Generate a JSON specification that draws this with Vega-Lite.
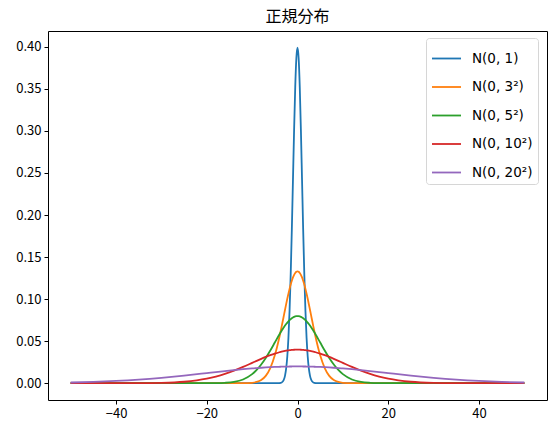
{
  "$schema": "https://vega.github.io/schema/vega-lite/v6.json",
  "autosize": "none",
  "width": 499,
  "height": 369,
  "padding": {"left": 48, "top": 31, "right": 8, "bottom": 33},
  "background": "white",
  "title": {"text": "正規分布", "font": "Noto Sans CJK JP", "fontSize": 16, "fontWeight": "normal", "color": "black", "offset": 6},
  "config": {
    "view": {"stroke": "black", "strokeWidth": 1},
    "axis": {"domain": false, "grid": false, "ticks": true, "tickColor": "black", "tickSize": 4, "tickWidth": 1, "labelFont": "Noto Sans CJK JP", "labelFontSize": 13, "labelColor": "black", "labelPadding": 3, "title": null}
  },
  "data": {"values": [
    {"x": -50, "s1": 0, "s3": 0, "s5": 0, "s10": 0, "s20": 0.00088},
    {"x": -45, "s1": 0, "s3": 0, "s5": 0, "s10": 0, "s20": 0.00159},
    {"x": -40, "s1": 0, "s3": 0, "s5": 0, "s10": 0.00001, "s20": 0.0027},
    {"x": -35, "s1": 0, "s3": 0, "s5": 0, "s10": 0.00009, "s20": 0.00431},
    {"x": -30, "s1": 0, "s3": 0, "s5": 0, "s10": 0.00044, "s20": 0.00648},
    {"x": -25, "s1": 0, "s3": 0, "s5": 0, "s10": 0.00175, "s20": 0.00913},
    {"x": -20, "s1": 0, "s3": 0, "s5": 0.00003, "s10": 0.0054, "s20": 0.0121},
    {"x": -18, "s1": 0, "s3": 0, "s5": 0.00012, "s10": 0.0079, "s20": 0.0133},
    {"x": -16, "s1": 0, "s3": 0, "s5": 0.00048, "s10": 0.01109, "s20": 0.01448},
    {"x": -14, "s1": 0, "s3": 0, "s5": 0.00158, "s10": 0.01497, "s20": 0.01561},
    {"x": -12, "s1": 0, "s3": 0.00004, "s5": 0.00448, "s10": 0.01942, "s20": 0.01666},
    {"x": -10, "s1": 0, "s3": 0.00051, "s5": 0.0108, "s10": 0.0242, "s20": 0.0176},
    {"x": -9, "s1": 0, "s3": 0.00148, "s5": 0.01579, "s10": 0.02661, "s20": 0.01803},
    {"x": -8, "s1": 0, "s3": 0.0038, "s5": 0.02218, "s10": 0.02897, "s20": 0.01841},
    {"x": -7, "s1": 0, "s3": 0.00874, "s5": 0.02995, "s10": 0.03123, "s20": 0.01876},
    {"x": -6, "s1": 0, "s3": 0.018, "s5": 0.03884, "s10": 0.03332, "s20": 0.01907},
    {"x": -5, "s1": 0, "s3": 0.03316, "s5": 0.04839, "s10": 0.03521, "s20": 0.01933},
    {"x": -4, "s1": 0.00013, "s3": 0.05467, "s5": 0.05794, "s10": 0.03683, "s20": 0.01955},
    {"x": -3.75, "s1": 0.00035, "s3": 0.06088, "s5": 0.06023, "s10": 0.03719, "s20": 0.0196},
    {"x": -3.5, "s1": 0.00087, "s3": 0.06733, "s5": 0.06245, "s10": 0.03752, "s20": 0.01964},
    {"x": -3.25, "s1": 0.00203, "s3": 0.07395, "s5": 0.06459, "s10": 0.03784, "s20": 0.01969},
    {"x": -3, "s1": 0.00443, "s3": 0.08066, "s5": 0.06664, "s10": 0.03814, "s20": 0.01972},
    {"x": -2.75, "s1": 0.00909, "s3": 0.08736, "s5": 0.06859, "s10": 0.03841, "s20": 0.01976},
    {"x": -2.5, "s1": 0.01753, "s3": 0.09397, "s5": 0.07041, "s10": 0.03867, "s20": 0.01979},
    {"x": -2.25, "s1": 0.03174, "s3": 0.10038, "s5": 0.07211, "s10": 0.0389, "s20": 0.01982},
    {"x": -2, "s1": 0.05399, "s3": 0.10648, "s5": 0.07365, "s10": 0.0391, "s20": 0.01985},
    {"x": -1.75, "s1": 0.08628, "s3": 0.11218, "s5": 0.07505, "s10": 0.03929, "s20": 0.01987},
    {"x": -1.5, "s1": 0.12952, "s3": 0.11736, "s5": 0.07628, "s10": 0.03945, "s20": 0.01989},
    {"x": -1.25, "s1": 0.18265, "s3": 0.12192, "s5": 0.07733, "s10": 0.03958, "s20": 0.01991},
    {"x": -1, "s1": 0.24197, "s3": 0.12579, "s5": 0.07821, "s10": 0.0397, "s20": 0.01992},
    {"x": -0.75, "s1": 0.30114, "s3": 0.12889, "s5": 0.0789, "s10": 0.03978, "s20": 0.01993},
    {"x": -0.5, "s1": 0.35207, "s3": 0.13115, "s5": 0.07939, "s10": 0.03984, "s20": 0.01994},
    {"x": -0.25, "s1": 0.38667, "s3": 0.13252, "s5": 0.07969, "s10": 0.03989, "s20": 0.01995},
    {"x": 0, "s1": 0.39894, "s3": 0.13298, "s5": 0.07979, "s10": 0.03989, "s20": 0.01995},
    {"x": 0.25, "s1": 0.38667, "s3": 0.13252, "s5": 0.07969, "s10": 0.03989, "s20": 0.01995},
    {"x": 0.5, "s1": 0.35207, "s3": 0.13115, "s5": 0.07939, "s10": 0.03984, "s20": 0.01994},
    {"x": 0.75, "s1": 0.30114, "s3": 0.12889, "s5": 0.0789, "s10": 0.03978, "s20": 0.01993},
    {"x": 1, "s1": 0.24197, "s3": 0.12579, "s5": 0.07821, "s10": 0.0397, "s20": 0.01992},
    {"x": 1.25, "s1": 0.18265, "s3": 0.12192, "s5": 0.07733, "s10": 0.03958, "s20": 0.01991},
    {"x": 1.5, "s1": 0.12952, "s3": 0.11736, "s5": 0.07628, "s10": 0.03945, "s20": 0.01989},
    {"x": 1.75, "s1": 0.08628, "s3": 0.11218, "s5": 0.07505, "s10": 0.03929, "s20": 0.01987},
    {"x": 2, "s1": 0.05399, "s3": 0.10648, "s5": 0.07365, "s10": 0.0391, "s20": 0.01985},
    {"x": 2.25, "s1": 0.03174, "s3": 0.10038, "s5": 0.07211, "s10": 0.0389, "s20": 0.01982},
    {"x": 2.5, "s1": 0.01753, "s3": 0.09397, "s5": 0.07041, "s10": 0.03867, "s20": 0.01979},
    {"x": 2.75, "s1": 0.00909, "s3": 0.08736, "s5": 0.06859, "s10": 0.03841, "s20": 0.01976},
    {"x": 3, "s1": 0.00443, "s3": 0.08066, "s5": 0.06664, "s10": 0.03814, "s20": 0.01972},
    {"x": 3.25, "s1": 0.00203, "s3": 0.07395, "s5": 0.06459, "s10": 0.03784, "s20": 0.01969},
    {"x": 3.5, "s1": 0.00087, "s3": 0.06733, "s5": 0.06245, "s10": 0.03752, "s20": 0.01964},
    {"x": 3.75, "s1": 0.00035, "s3": 0.06088, "s5": 0.06023, "s10": 0.03719, "s20": 0.0196},
    {"x": 4, "s1": 0.00013, "s3": 0.05467, "s5": 0.05794, "s10": 0.03683, "s20": 0.01955},
    {"x": 5, "s1": 0, "s3": 0.03316, "s5": 0.04839, "s10": 0.03521, "s20": 0.01933},
    {"x": 6, "s1": 0, "s3": 0.018, "s5": 0.03884, "s10": 0.03332, "s20": 0.01907},
    {"x": 7, "s1": 0, "s3": 0.00874, "s5": 0.02995, "s10": 0.03123, "s20": 0.01876},
    {"x": 8, "s1": 0, "s3": 0.0038, "s5": 0.02218, "s10": 0.02897, "s20": 0.01841},
    {"x": 9, "s1": 0, "s3": 0.00148, "s5": 0.01579, "s10": 0.02661, "s20": 0.01803},
    {"x": 10, "s1": 0, "s3": 0.00051, "s5": 0.0108, "s10": 0.0242, "s20": 0.0176},
    {"x": 12, "s1": 0, "s3": 0.00004, "s5": 0.00448, "s10": 0.01942, "s20": 0.01666},
    {"x": 14, "s1": 0, "s3": 0, "s5": 0.00158, "s10": 0.01497, "s20": 0.01561},
    {"x": 16, "s1": 0, "s3": 0, "s5": 0.00048, "s10": 0.01109, "s20": 0.01448},
    {"x": 18, "s1": 0, "s3": 0, "s5": 0.00012, "s10": 0.0079, "s20": 0.0133},
    {"x": 20, "s1": 0, "s3": 0, "s5": 0.00003, "s10": 0.0054, "s20": 0.0121},
    {"x": 25, "s1": 0, "s3": 0, "s5": 0, "s10": 0.00175, "s20": 0.00913},
    {"x": 30, "s1": 0, "s3": 0, "s5": 0, "s10": 0.00044, "s20": 0.00648},
    {"x": 35, "s1": 0, "s3": 0, "s5": 0, "s10": 0.00009, "s20": 0.00431},
    {"x": 40, "s1": 0, "s3": 0, "s5": 0, "s10": 0.00001, "s20": 0.0027},
    {"x": 45, "s1": 0, "s3": 0, "s5": 0, "s10": 0, "s20": 0.00159},
    {"x": 50, "s1": 0, "s3": 0, "s5": 0, "s10": 0, "s20": 0.00088}
  ]},
  "transform": [{"fold": ["s1", "s3", "s5", "s10", "s20"], "as": ["series", "y"]}],
  "mark": {"type": "line", "strokeWidth": 1.8, "interpolate": "monotone", "clip": true},
  "encoding": {
    "x": {"field": "x", "type": "quantitative", "scale": {"domain": [-55, 55], "nice": false, "zero": false}, "axis": {"values": [-40, -20, 0, 20, 40], "format": "d"}},
    "y": {"field": "y", "type": "quantitative", "scale": {"domain": [-0.01995, 0.4188], "nice": false, "zero": false}, "axis": {"values": [0, 0.05, 0.1, 0.15, 0.2, 0.25, 0.3, 0.35, 0.4], "format": ".2f"}},
    "color": {
      "field": "series", "type": "nominal",
      "scale": {"domain": ["s1", "s3", "s5", "s10", "s20"], "range": ["#1f77b4", "#ff7f0e", "#2ca02c", "#d62728", "#9467bd"]},
      "legend": {
        "title": null, "orient": "none", "legendX": 378, "legendY": 7,
        "labelExpr": "datum.label == 's1' ? 'N(0, 1)' : datum.label == 's3' ? 'N(0, 3²)' : datum.label == 's5' ? 'N(0, 5²)' : datum.label == 's10' ? 'N(0, 10²)' : 'N(0, 20²)'",
        "symbolType": "stroke", "symbolSize": 841, "symbolStrokeWidth": 1.8,
        "labelFont": "DejaVu Sans", "labelFontSize": 13.5, "labelColor": "black", "labelOffset": 10,
        "rowPadding": 6.5, "padding": 5, "strokeColor": "#d6d6d6", "fillColor": "white", "cornerRadius": 3
      }
    }
  }
}
